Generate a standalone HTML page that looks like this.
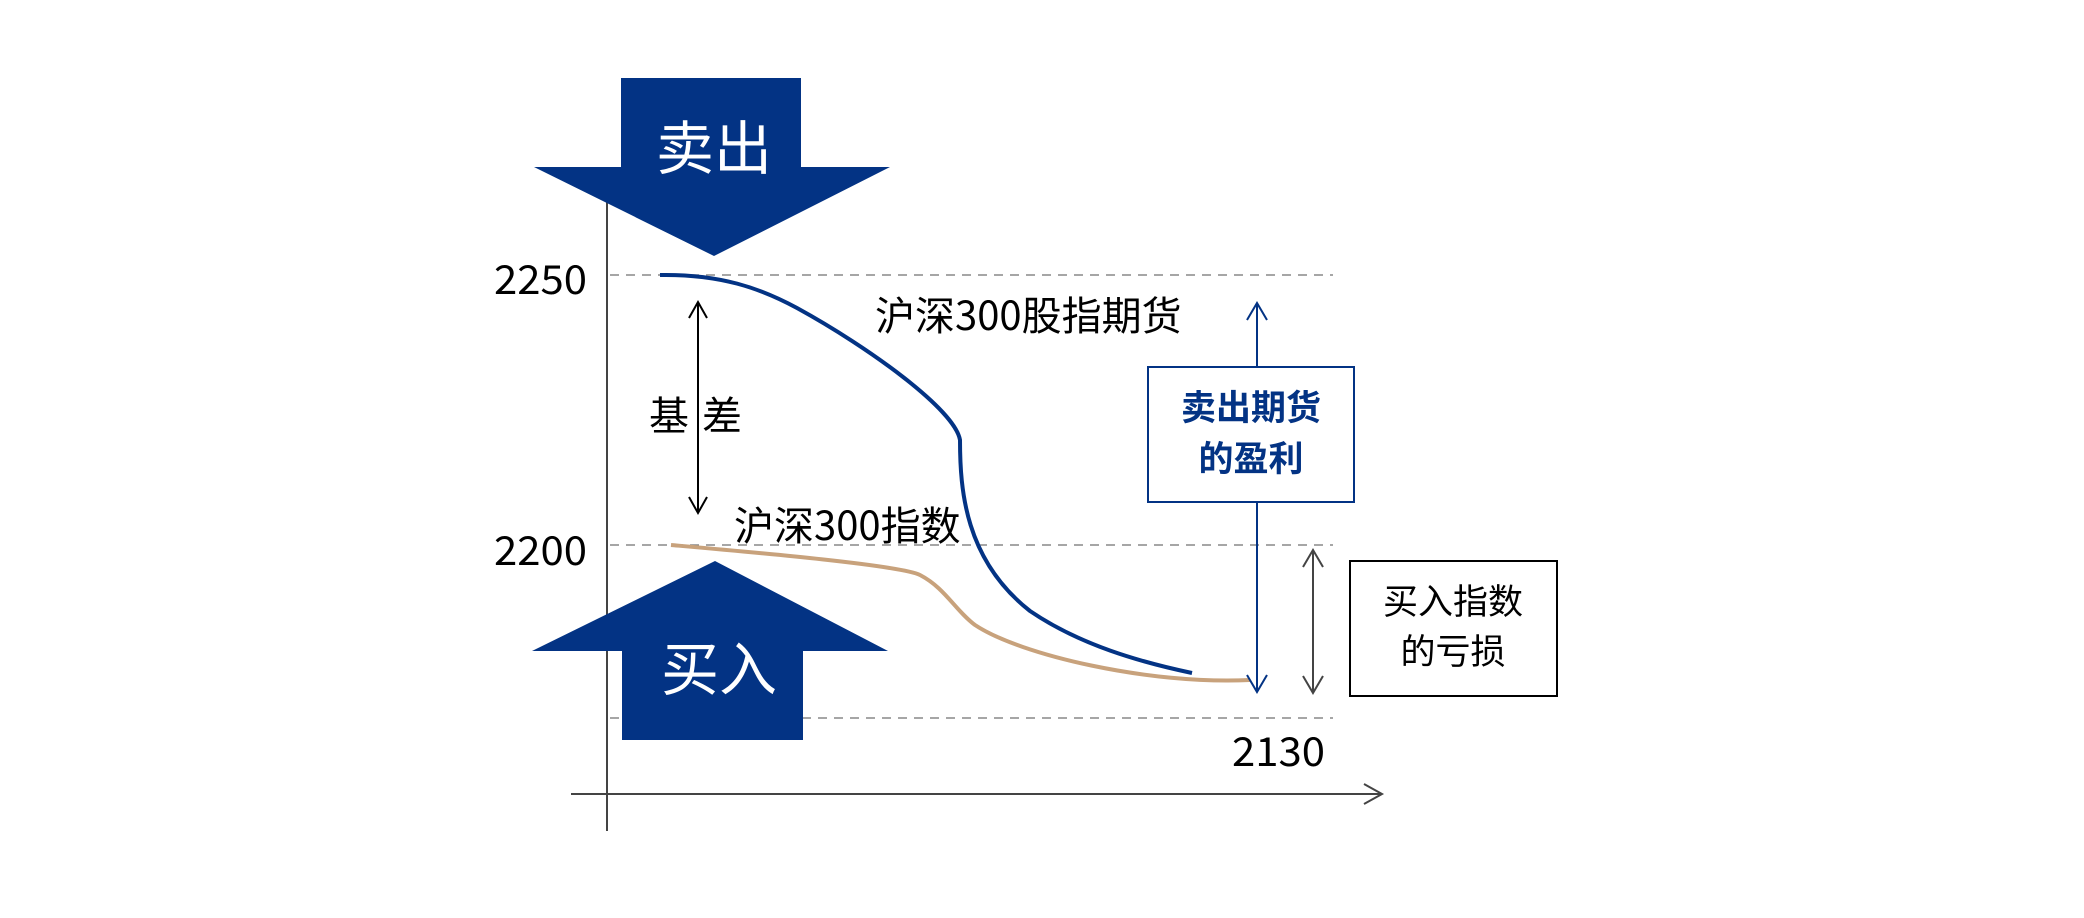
<!DOCTYPE html>
<html><head><meta charset="utf-8"><style>
html,body{margin:0;padding:0;background:#fff;}
svg{display:block;}
text{font-family:"Noto Sans CJK SC","Liberation Sans",sans-serif;}
</style></head><body>
<svg width="2084" height="918" viewBox="0 0 2084 918" xmlns="http://www.w3.org/2000/svg">
<line x1="607" y1="200" x2="607" y2="831" stroke="#444" stroke-width="2"/>
<line x1="571" y1="794" x2="1380" y2="794" stroke="#444" stroke-width="2"/>
<polyline points="1364,784 1382,794 1364,804" fill="none" stroke="#444" stroke-width="2"/>
<g stroke="#888" stroke-width="1.5" stroke-dasharray="9,7">
<line x1="610" y1="275" x2="1333" y2="275"/>
<line x1="610" y1="545" x2="1333" y2="545"/>
<line x1="610" y1="718" x2="1333" y2="718"/>
</g>
<g font-size="40" fill="#000">
<text x="494" y="294" textLength="93" lengthAdjust="spacingAndGlyphs">2250</text>
<text x="494" y="565" textLength="93" lengthAdjust="spacingAndGlyphs">2200</text>
<text x="1232" y="766" textLength="93" lengthAdjust="spacingAndGlyphs">2130</text>
</g>
<polygon points="621,78 801,78 801,167 890,167 714,256 534,167 621,167" fill="#033384"/>
<text x="714" y="169" font-size="58" fill="#fff" text-anchor="middle">卖出</text>
<polygon points="715,561 888,651 803,651 803,740 622,740 622,651 532,651" fill="#033384"/>
<text x="719" y="690" font-size="58" fill="#fff" text-anchor="middle">买入</text>
<path d="M660,275 C720,274 760,288 797,308 C870,348 955,410 960,440 C960,490 965,560 1030,611 C1080,645 1140,662 1192,673" fill="none" stroke="#033384" stroke-width="4"/>
<path d="M671,545 C750,552 900,565 920,575 C945,588 955,610 975,625 C1020,655 1150,685 1250,680" fill="none" stroke="#c8a27c" stroke-width="4"/>
<line x1="698" y1="303" x2="698" y2="512" stroke="#000" stroke-width="2"/>
<polyline points="689,318 698,302 707,318" fill="none" stroke="#000" stroke-width="2"/>
<polyline points="689,497 698,513 707,497" fill="none" stroke="#000" stroke-width="2"/>
<text x="669" y="430" font-size="40" fill="#000" text-anchor="middle">基</text>
<text x="722" y="430" font-size="40" fill="#000" text-anchor="middle">差</text>
<text x="875" y="330" font-size="40" fill="#000">沪深300股指期货</text>
<text x="734" y="540" font-size="40" fill="#000">沪深300指数</text>
<line x1="1257" y1="304" x2="1257" y2="691" stroke="#033384" stroke-width="2"/>
<polyline points="1247,320 1257,303 1267,320" fill="none" stroke="#033384" stroke-width="2"/>
<polyline points="1247,675 1257,692 1267,675" fill="none" stroke="#033384" stroke-width="2"/>
<rect x="1148" y="367" width="206" height="135" fill="#fff" stroke="#033384" stroke-width="2"/>
<text x="1251" y="420" font-size="35" font-weight="bold" fill="#033384" text-anchor="middle">卖出期货</text>
<text x="1251" y="471" font-size="35" font-weight="bold" fill="#033384" text-anchor="middle">的盈利</text>
<line x1="1313" y1="551" x2="1313" y2="692" stroke="#444" stroke-width="2"/>
<polyline points="1303,567 1313,550 1323,567" fill="none" stroke="#444" stroke-width="2"/>
<polyline points="1303,676 1313,693 1323,676" fill="none" stroke="#444" stroke-width="2"/>
<rect x="1350" y="561" width="207" height="135" fill="#fff" stroke="#000" stroke-width="2"/>
<text x="1453" y="614" font-size="35" fill="#000" text-anchor="middle">买入指数</text>
<text x="1453" y="664" font-size="35" fill="#000" text-anchor="middle">的亏损</text>
</svg>
</body></html>
